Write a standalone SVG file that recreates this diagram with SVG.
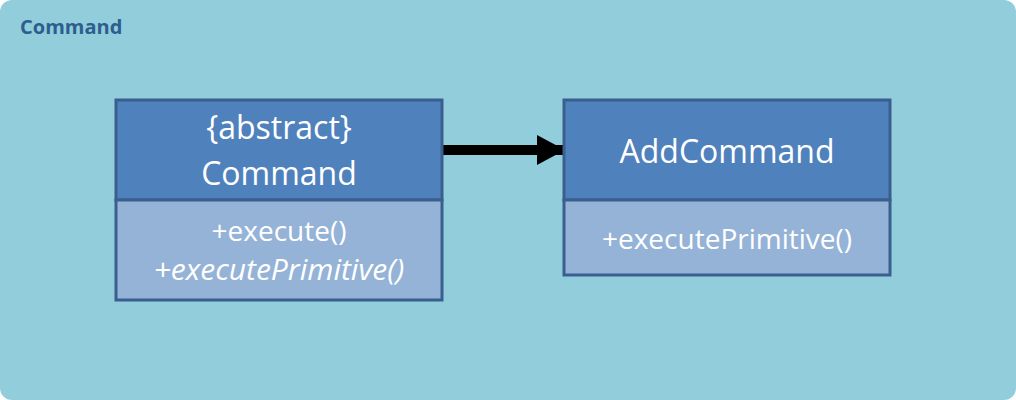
<svg xmlns="http://www.w3.org/2000/svg" width="1016" height="400" viewBox="0 0 1016 400">
<defs>
<style>
.bg{fill:#92CDDC}
.hd{fill:#4F81BD;stroke:#3A5F8F;stroke-width:3}
.bd{fill:#95B3D7;stroke:#3A5F8F;stroke-width:3}
.t{font-family:"Open Sans","Noto Sans",sans-serif;fill:#FFFFFF;text-anchor:middle}
.h{font-size:32px}
.b{font-size:28px}
.i{font-size:30px;font-style:italic}
.title{font-family:"Open Sans","Noto Sans",sans-serif;font-weight:bold;font-size:20px;fill:#2E5E8E}
</style>
<marker id="arr" markerUnits="userSpaceOnUse" markerWidth="30" markerHeight="32" refX="28" refY="15" orient="auto">
<path d="M0,0 L28,15 L0,30 Z" fill="#000"/>
</marker>
</defs>
<rect class="bg" x="0" y="0" width="1016" height="400" rx="12" ry="12"/>
<text class="title" x="20" y="34">Command</text>
<g id="connectors">
<line x1="443" y1="150" x2="565" y2="150" stroke="#000" stroke-width="10" marker-end="url(#arr)"/>
</g>
<g id="node-command">
<rect class="hd" x="116" y="100" width="326" height="100"/>
<rect class="bd" x="116" y="200" width="326" height="100"/>
<text class="t h" x="279" y="139">{abstract}</text>
<text class="t h" x="279" y="185">Command</text>
<text class="t b" x="279" y="241">+execute()</text>
<text class="t i" x="279" y="280">+executePrimitive()</text>
</g>
<g id="node-addcommand">
<rect class="hd" x="564" y="100" width="326" height="100"/>
<rect class="bd" x="564" y="200" width="326" height="75"/>
<text class="t h" x="727" y="163">AddCommand</text>
<text class="t b" x="727" y="249">+executePrimitive()</text>
</g>
</svg>
